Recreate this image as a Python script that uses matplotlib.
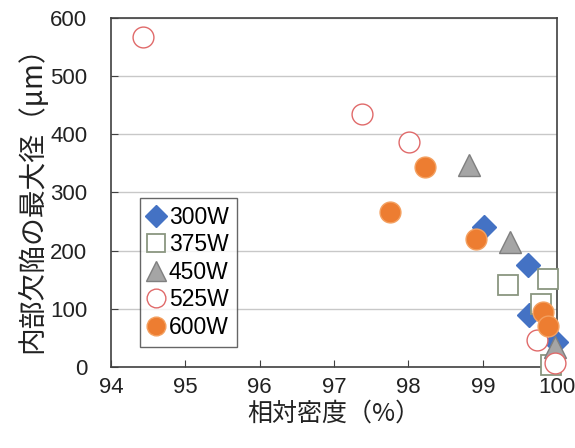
import matplotlib
matplotlib.use("Agg")
import matplotlib.pyplot as plt

plt.rcParams['font.family'] = ['Liberation Sans', 'Noto Sans CJK JP', 'DejaVu Sans']

labels = ["300W", "375W", "450W", "525W", "600W"]
x300 = [99.01, 99.61, 99.62, 99.99]
y300 = [241, 175, 89, 42]
x375 = [99.34, 99.87, 99.78, 99.92]
y375 = [140, 151, 109, 3]
x450 = [98.82, 99.36, 99.97]
y450 = [347, 214, 35]
x525 = [94.43, 97.38, 98.01, 99.73, 99.97]
y525 = [568, 434, 386, 46, 6]
x600 = [98.22, 97.75, 98.91, 99.81, 99.87]
y600 = [344, 266, 220, 95, 70]

xticks = [94, 95, 96, 97, 98, 99, 100]
yticks = [0, 100, 200, 300, 400, 500, 600]

fig = plt.figure(figsize=(5.75, 4.48), dpi=100)
ax = fig.add_axes([0.193, 0.181, 0.776, 0.779])

common = dict(ls='none', zorder=3, clip_on=False)
ax.plot(x300, y300, marker='D', ms=12, mfc='#4472C4', mec='#4472C4', label=labels[0], **common)
ax.plot(x375, y375, marker='s', ms=15, mfc='white', mec='#8A9680', mew=1.3, label=labels[1], **common)
ax.plot(x450, y450, marker='^', ms=16, mfc='#A5A5A5', mec='#7F7F7F', mew=1.0, label=labels[2], **common)
ax.plot(x525, y525, marker='o', ms=15, mfc='white', mec='#E06A6A', mew=1.0, label=labels[3], **common)
ax.plot(x600, y600, marker='o', ms=15, mfc='#ED7D31', mec='#F4A060', mew=1.0, label=labels[4], **common)

ax.set_xlim(94, 100)
ax.set_ylim(0, 600)
ax.set_xticks(xticks)
ax.set_yticks(yticks)
ax.tick_params(direction='in', length=5, labelsize=16, colors='#404040', labelcolor='#222222')
ax.tick_params(axis='y', pad=17)
ax.tick_params(axis='x', pad=7)
ax.yaxis.grid(True, color='#C8C8C8', lw=1.0)
ax.set_axisbelow(True)
for s in ax.spines.values():
    s.set_color('#404040')
    s.set_linewidth(1.2)

ax.set_xlabel('相対密度（%）', fontsize=18, family=['Noto Sans CJK JP', 'DejaVu Sans'], color='#222222', labelpad=2)
ax.set_ylabel('内部欠陥の最大径（μm）', fontsize=20, family=['Noto Sans CJK JP', 'DejaVu Sans'], color='#222222', labelpad=2)

leg = ax.legend(loc='lower left', bbox_to_anchor=(0.065, 0.057), fontsize=16.5, frameon=True, fancybox=False,
                handlelength=0.7, handletextpad=0.2, borderpad=0.35, labelspacing=0.2, borderaxespad=0,
                markerscale=0.9)
leg.get_frame().set_edgecolor('#404040')
leg.get_frame().set_linewidth(1.0)

fig.savefig('out.png', dpi=100)
